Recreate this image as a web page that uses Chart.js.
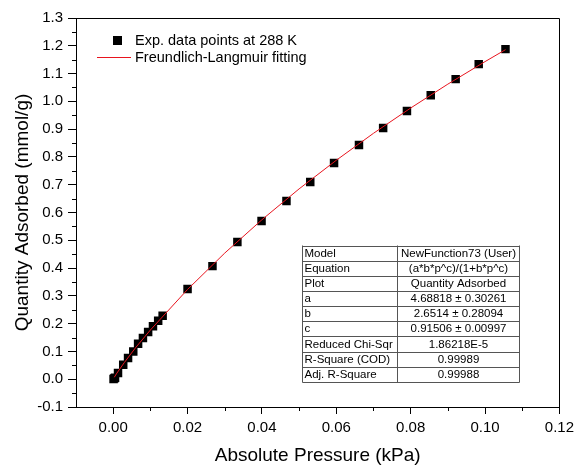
<!DOCTYPE html>
<html>
<head>
<meta charset="utf-8">
<script src="https://cdn.jsdelivr.net/npm/chart.js@4.4.0/dist/chart.umd.min.js"></script>
<style>
  html, body { margin: 0; padding: 0; background: #fff; }
  #wrap { position: relative; width: 579px; height: 469px; }
</style>
</head>
<body>
<div id="wrap"><canvas id="grafica" width="579" height="469"></canvas></div>
<script>
// Datos experimentales (kPa, mmol/g)
const presionExp = [0.0001, 0.0003, 0.0005, 0.0013, 0.0027, 0.0040, 0.0054, 0.0067, 0.0080, 0.0094,
  0.0107, 0.0121, 0.0133, 0.0200, 0.0267, 0.0334, 0.0399, 0.0466, 0.0530, 0.0594,
  0.0661, 0.0726, 0.0790, 0.0854, 0.0921, 0.0983, 0.1055];
const cantidadExp = [0.001, 0.003, 0.005, 0.022, 0.052, 0.076, 0.100, 0.128, 0.148, 0.170,
  0.191, 0.210, 0.228, 0.325, 0.407, 0.494, 0.569, 0.641, 0.710, 0.778,
  0.843, 0.904, 0.965, 1.022, 1.080, 1.134, 1.188];

// Curva de ajuste
const presionAjuste = [0.0003, 0.001, 0.003, 0.006, 0.01, 0.02, 0.03, 0.04, 0.05, 0.06, 0.07, 0.08, 0.09, 0.1, 0.1055];
const cantidadAjuste = [0.007, 0.022, 0.060, 0.113, 0.177, 0.323, 0.454, 0.574, 0.685, 0.788, 0.885, 0.976, 1.062, 1.143, 1.186];

const ticksX = [0, 0.02, 0.04, 0.06, 0.08, 0.10, 0.12];
const menoresX = [0.01, 0.03, 0.05, 0.07, 0.09, 0.11];
const ticksY = [-0.1, 0, 0.1, 0.2, 0.3, 0.4, 0.5, 0.6, 0.7, 0.8, 0.9, 1.0, 1.1, 1.2, 1.3];
const menoresY = [-0.05, 0.05, 0.15, 0.25, 0.35, 0.45, 0.55, 0.65, 0.75, 0.85, 0.95, 1.05, 1.15, 1.25];

const filasTabla = [
  ['Model', 'NewFunction73 (User)'],
  ['Equation', '(a*b*p^c)/(1+b*p^c)'],
  ['Plot', 'Quantity Adsorbed'],
  ['a', '4.68818 \u00b1 0.30261'],
  ['b', '2.6514 \u00b1 0.28094'],
  ['c', '0.91506 \u00b1 0.00997'],
  ['Reduced Chi-Sqr', '1.86218E-5'],
  ['R-Square (COD)', '0.99989'],
  ['Adj. R-Square', '0.99988']
];

const fuente = "'Liberation Sans', Arial, sans-serif";

const extras = {
  id: 'extras',
  afterDraw(chart) {
    const ctx = chart.ctx, a = chart.chartArea;
    const sx = chart.scales.x, sy = chart.scales.y;
    ctx.save();
    ctx.strokeStyle = '#000';
    ctx.lineWidth = 1;
    // marco
    ctx.beginPath();
    ctx.moveTo(Math.round(a.left) + 0.5, Math.round(a.top) + 0.5);
    ctx.lineTo(Math.round(a.right) + 0.5, Math.round(a.top) + 0.5);
    ctx.lineTo(Math.round(a.right) + 0.5, Math.round(a.bottom) + 0.5);
    ctx.stroke();
    // ticks menores
    ctx.beginPath();
    menoresX.forEach(v => {
      const px = Math.round(sx.getPixelForValue(v)) + 0.5;
      ctx.moveTo(px, a.bottom); ctx.lineTo(px, a.bottom + 4);
    });
    menoresY.forEach(v => {
      const py = Math.round(sy.getPixelForValue(v)) + 0.5;
      ctx.moveTo(a.left, py); ctx.lineTo(a.left - 4, py);
    });
    ctx.stroke();

    // leyenda
    ctx.fillStyle = '#000';
    ctx.fillRect(113, 36, 9, 9);
    ctx.strokeStyle = '#e8141e';
    ctx.beginPath();
    ctx.moveTo(97, 57.5); ctx.lineTo(131, 57.5);
    ctx.stroke();
    ctx.font = '14.5px ' + fuente;
    ctx.textBaseline = 'middle';
    ctx.textAlign = 'left';
    ctx.fillText('Exp. data points at 288 K', 135, 41);
    ctx.fillText('Freundlich-Langmuir fitting', 135, 58);

    // tabla
    const x0 = 302.5, x1 = 397.5, x2 = 519.5, y0 = 245.5, alto = 15.15;
    const y1 = y0 + alto * filasTabla.length;
    ctx.fillStyle = '#fff';
    ctx.fillRect(x0, y0, x2 - x0, y1 - y0);
    ctx.strokeStyle = '#555';
    ctx.beginPath();
    for (let i = 0; i <= filasTabla.length; i++) {
      const y = Math.round(y0 + i * alto) + 0.5;
      ctx.moveTo(x0, y); ctx.lineTo(x2, y);
    }
    [x0, x1, x2].forEach(x => { ctx.moveTo(x, y0); ctx.lineTo(x, Math.round(y1) + 0.5); });
    ctx.stroke();
    ctx.fillStyle = '#000';
    ctx.font = '11.5px ' + fuente;
    filasTabla.forEach((f, i) => {
      const y = y0 + i * alto + alto / 2 + 0.5;
      ctx.textAlign = 'left';
      ctx.fillText(f[0], x0 + 2, y);
      ctx.textAlign = 'center';
      ctx.fillText(f[1], (x1 + x2) / 2, y);
    });
    ctx.restore();
  }
};

const ctxIsoterma = document.getElementById('grafica').getContext('2d');
const graficaIsoterma = new Chart(ctxIsoterma, {
  type: 'scatter',
  data: {
    datasets: [{
      label: 'Freundlich-Langmuir fitting',
      type: 'line',
      data: presionAjuste.map((p, i) => ({ x: p, y: cantidadAjuste[i] })),
      borderColor: '#e8141e',
      borderWidth: 1,
      pointRadius: 0,
      tension: 0,
      fill: false,
      order: 0
    }, {
      label: 'Exp. data points at 288 K',
      data: presionExp.map((p, i) => ({ x: p, y: cantidadExp[i] })),
      pointStyle: 'rect',
      pointRadius: 6,
      backgroundColor: '#000',
      borderWidth: 0,
      order: 1
    }]
  },
  options: {
    responsive: false,
    animation: false,
    devicePixelRatio: 1,
    layout: { padding: { top: 18, right: 18, left: 0, bottom: 0 } },
    plugins: { legend: { display: false }, tooltip: { enabled: false } },
    scales: {
      x: {
        type: 'linear',
        min: -0.01,
        max: 0.12,
        afterBuildTicks: s => { s.ticks = ticksX.map(v => ({ value: v })); },
        afterFit: s => { s.height = 62; },
        grid: { drawOnChartArea: false, tickLength: 7, color: '#000' },
        border: { color: '#000', width: 1 },
        ticks: {
          color: '#000',
          padding: 5,
          font: { family: fuente, size: 15 },
          callback: v => v.toFixed(2)
        },
        title: {
          display: true,
          text: 'Absolute Pressure (kPa)',
          color: '#000',
          font: { family: fuente, size: 19 },
          padding: { top: 0, bottom: 2 }
        }
      },
      y: {
        type: 'linear',
        min: -0.1,
        max: 1.3,
        afterBuildTicks: s => { s.ticks = ticksY.map(v => ({ value: v })); },
        afterFit: s => { s.width = 76; },
        grid: { drawOnChartArea: false, tickLength: 8, color: '#000' },
        border: { color: '#000', width: 1 },
        ticks: {
          color: '#000',
          padding: 5,
          font: { family: fuente, size: 15 },
          callback: v => v.toFixed(1)
        },
        title: {
          display: true,
          text: 'Quantity Adsorbed (mmol/g)',
          color: '#000',
          font: { family: fuente, size: 19 },
          padding: { top: 11, bottom: 0 }
        }
      }
    }
  },
  plugins: [extras]
});
</script>
</body>
</html>
